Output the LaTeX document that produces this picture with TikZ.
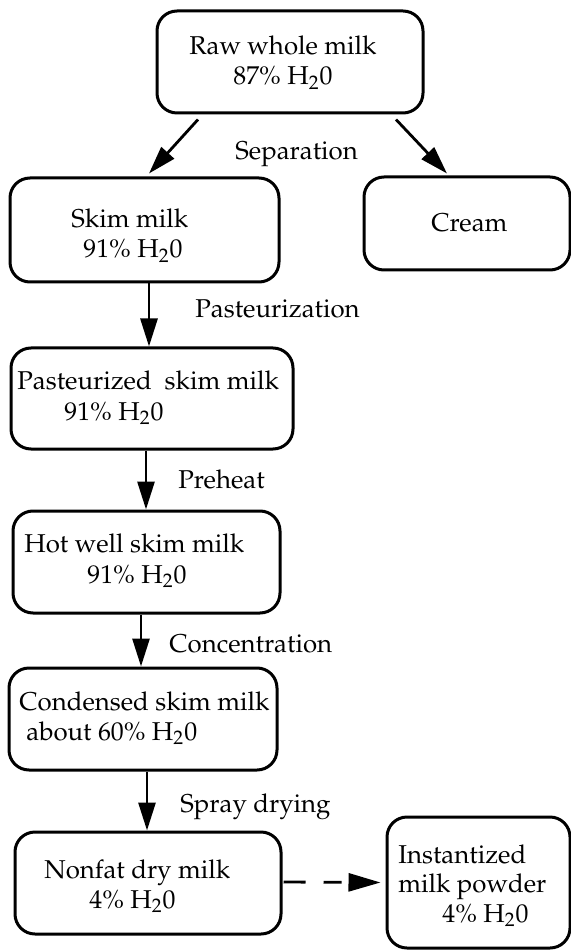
\documentclass[tikz,border=0pt]{standalone}
\usepackage[T1]{fontenc}
\usepackage{mathpazo}
\usetikzlibrary{arrows.meta}
\begin{document}
\begin{tikzpicture}[x=0.5pt,y=-0.5pt,
 box/.style={draw,line width=1.5pt,rounded corners=10pt,inner sep=0pt},
 txt/.style={anchor=base west,inner sep=0pt,font=\fontsize{12.9}{15}\selectfont},
 arr/.style={line width=1.4pt,-{Triangle[length=14pt,width=8.5pt]}},
]
\useasboundingbox (0,0) rectangle (571,951);
% boxes
\node[box,minimum width=133pt,minimum height=51pt] (raw) at (290,62) {};
\node[box,minimum width=134.5pt,minimum height=52pt] (skim) at (144.5,230) {};
\node[box,minimum width=103pt,minimum height=46.5pt] (cream) at (467,223.5) {};
\node[box,minimum width=141pt,minimum height=50.5pt] (past) at (152,398.5) {};
\node[box,minimum width=133.5pt,minimum height=51pt] (hot) at (146.5,562) {};
\node[box,minimum width=134pt,minimum height=51pt] (cond) at (143,719) {};
\node[box,minimum width=133pt,minimum height=51pt] (nonfat) at (148,883) {};
\node[box,minimum width=91.5pt,minimum height=65.5pt] (inst) at (478.5,882.5) {};
% texts
\node[txt] (t1a) at (189,55) {Raw whole milk};
\node[txt] (t1b) at (233,85) {87\% H\textsubscript{2}0};
\node[txt] (t2a) at (71,228) {Skim milk};
\node[txt] (t2b) at (83,258) {91\% H\textsubscript{2}0};
\node[txt] (t3) at (431,232) {Cream};
\node[txt] (t4a) at (17,390) {Pasteurized\ \ skim milk};
\node[txt] (t4b) at (64,420) {91\% H\textsubscript{2}0};
\node[txt] (t5a) at (24,552) {Hot well skim milk};
\node[txt] (t5b) at (87,583) {91\% H\textsubscript{2}0};
\node[txt] (t6a) at (19,710) {Condensed skim milk};
\node[txt] (t6b) at (26,740) {about 60\% H\textsubscript{2}0};
\node[txt] (t7a) at (44,878) {Nonfat dry milk};
\node[txt] (t7b) at (89,908) {4\% H\textsubscript{2}0};
\node[txt] (t8a) at (398,863) {Instantized};
\node[txt] (t8b) at (398,892) {milk powder};
\node[txt] (t8c) at (442,922) {4\% H\textsubscript{2}0};
% step labels
\node[txt] (l1) at (235,160) {Separation};
\node[txt] (l2) at (195,318) {Pasteurization};
\node[txt] (l3) at (178,488) {Preheat};
\node[txt] (l4) at (169,652) {Concentration};
\node[txt] (l5) at (180,812) {Spray drying};
% connectors
\draw[arr] ([shift={(-92,5)}]raw.south) -- ([shift={(4.5,-3)}]skim.north);
\draw[arr] ([shift={(106,5)}]raw.south) -- ([shift={(-20,-2)}]cream.north);
\draw[arr] ([shift={(4.5,0)}]skim.south) -- ([shift={(-3,0)}]past.north);
\draw[arr] ([shift={(-6,0)}]past.south) -- ([shift={(-0.5,0)}]hot.north);
\draw[arr] ([shift={(-5.5,0)}]hot.south) -- ([shift={(-2,0)}]cond.north);
\draw[arr] ([shift={(4,0)}]cond.south) -- ([shift={(-1,0)}]nonfat.north);
\draw[line width=1.4pt,dash pattern={on 11pt off 9pt on 9pt off 20pt},-{Triangle[length=16pt,width=9pt]}]
  ([shift={(1,-1)}]nonfat.east) -- ([shift={(-5,0)}]inst.west);
\end{tikzpicture}
\end{document}
